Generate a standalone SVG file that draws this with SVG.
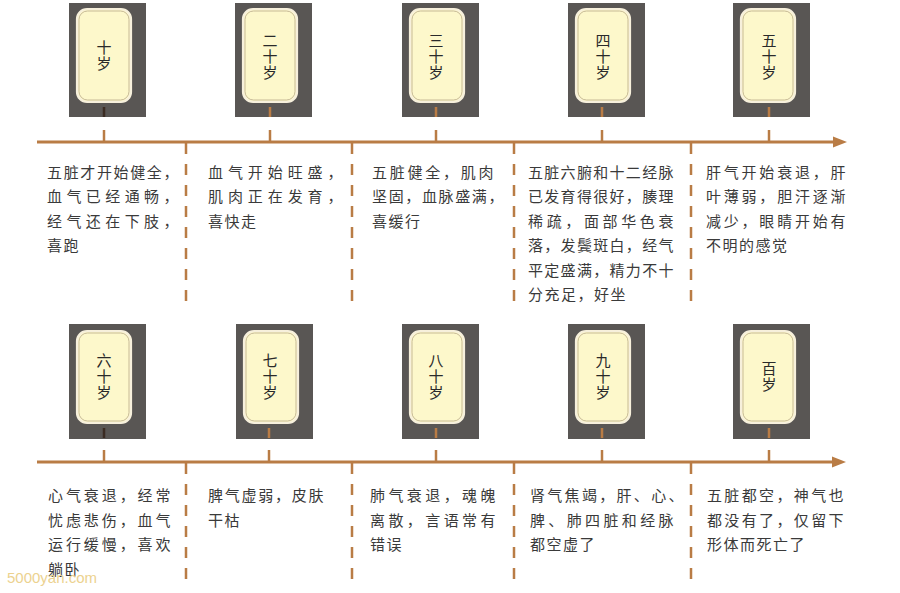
<svg xmlns="http://www.w3.org/2000/svg" width="900" height="593" viewBox="0 0 900 593">
<defs>
<style>
.box{fill:#595654}
.card{fill:#fdf8cb;stroke:#f7f0dc;stroke-width:2.2}
.cardin{fill:none;stroke:#b9a98a;stroke-width:0.8}
.lbl{font-family:"Noto Sans CJK SC","Noto Sans CJK JP",sans-serif;font-size:15px;fill:#2a2a2a;text-anchor:middle;writing-mode:vertical-rl;letter-spacing:1px}
.t{font-family:"Noto Sans CJK SC","Noto Sans CJK JP",sans-serif;font-size:15px;fill:#3a3a3a;letter-spacing:1.5px}
.line{stroke:#b97c45;stroke-width:3;fill:none}
.tick{stroke:#b97c45;stroke-width:2.5}
.tickd{stroke:#3b2b22;stroke-width:2.5}
.dash{stroke:#b97c45;stroke-width:2.5;stroke-dasharray:11 10}
.wm{font-family:"Liberation Sans",Arial,sans-serif;font-size:15px;fill:#ecd28f}
</style>
</defs>
<rect width="900" height="593" fill="#ffffff"/>

<g id="connectors">
<line class="line" x1="37" y1="142" x2="836" y2="142"/>
<polygon points="833,136.5 847,142 833,147.5" fill="#b97c45"/>
<line class="line" x1="37" y1="462" x2="834" y2="462"/>
<polygon points="832,456.5 846,462 832,467.5" fill="#b97c45"/>
<line class="dash" x1="186" y1="143" x2="186" y2="310"/>
<line class="dash" x1="352" y1="143" x2="352" y2="310"/>
<line class="dash" x1="514" y1="143" x2="514" y2="310"/>
<line class="dash" x1="691" y1="143" x2="691" y2="310"/>
<line class="dash" x1="186" y1="463" x2="186" y2="585"/>
<line class="dash" x1="352" y1="463" x2="352" y2="585"/>
<line class="dash" x1="514" y1="463" x2="514" y2="585"/>
<line class="dash" x1="691" y1="463" x2="691" y2="585"/>
<line class="tick" x1="104" y1="130" x2="104" y2="142"/>
<line class="tick" x1="270" y1="130" x2="270" y2="142"/>
<line class="tick" x1="436" y1="130" x2="436" y2="142"/>
<line class="tick" x1="602" y1="130" x2="602" y2="142"/>
<line class="tick" x1="769" y1="130" x2="769" y2="142"/>
<line class="tick" x1="104" y1="450" x2="104" y2="462"/>
<line class="tick" x1="269" y1="450" x2="269" y2="462"/>
<line class="tick" x1="436" y1="450" x2="436" y2="462"/>
<line class="tick" x1="602" y1="450" x2="602" y2="462"/>
<line class="tick" x1="769" y1="450" x2="769" y2="462"/>
</g>

<g id="n10">
<rect class="box" x="69" y="3" width="77" height="114"/>
<rect class="card" x="77" y="9" width="54" height="93" rx="10"/>
<rect class="cardin" x="79" y="11" width="50" height="89" rx="8.5"/>
<line class="tickd" x1="104" y1="107" x2="104" y2="117"/>
<text class="lbl" x="104" y="55.5">十岁</text>
</g>
<g id="n20">
<rect class="box" x="235" y="3" width="77" height="114"/>
<rect class="card" x="243" y="9" width="54" height="93" rx="10"/>
<rect class="cardin" x="245" y="11" width="50" height="89" rx="8.5"/>
<line class="tick" x1="270" y1="107" x2="270" y2="117"/>
<text class="lbl" x="270" y="56.5">二十岁</text>
</g>
<g id="n30">
<rect class="box" x="402" y="3" width="77" height="114"/>
<rect class="card" x="410" y="9" width="54" height="93" rx="10"/>
<rect class="cardin" x="412" y="11" width="50" height="89" rx="8.5"/>
<line class="tick" x1="436" y1="107" x2="436" y2="117"/>
<text class="lbl" x="436" y="56.5">三十岁</text>
</g>
<g id="n40">
<rect class="box" x="568" y="3" width="77" height="114"/>
<rect class="card" x="576" y="9" width="54" height="93" rx="10"/>
<rect class="cardin" x="578" y="11" width="50" height="89" rx="8.5"/>
<line class="tick" x1="602" y1="107" x2="602" y2="117"/>
<text class="lbl" x="603" y="56.5">四十岁</text>
</g>
<g id="n50">
<rect class="box" x="733" y="3" width="77" height="114"/>
<rect class="card" x="741" y="9" width="54" height="93" rx="10"/>
<rect class="cardin" x="743" y="11" width="50" height="89" rx="8.5"/>
<line class="tick" x1="769" y1="107" x2="769" y2="117"/>
<text class="lbl" x="769" y="56.5">五十岁</text>
</g>

<g id="n60">
<rect class="box" x="69" y="324" width="77" height="115"/>
<rect class="card" x="77" y="331" width="54" height="92" rx="10"/>
<rect class="cardin" x="79" y="333" width="50" height="88" rx="8.5"/>
<line class="tickd" x1="104" y1="428" x2="104" y2="438"/>
<text class="lbl" x="104" y="377">六十岁</text>
</g>
<g id="n70">
<rect class="box" x="236" y="324" width="77" height="115"/>
<rect class="card" x="244" y="331" width="54" height="92" rx="10"/>
<rect class="cardin" x="246" y="333" width="50" height="88" rx="8.5"/>
<line class="tick" x1="269" y1="428" x2="269" y2="438"/>
<text class="lbl" x="270" y="377">七十岁</text>
</g>
<g id="n80">
<rect class="box" x="402" y="324" width="77" height="115"/>
<rect class="card" x="410" y="331" width="54" height="92" rx="10"/>
<rect class="cardin" x="412" y="333" width="50" height="88" rx="8.5"/>
<line class="tick" x1="436" y1="428" x2="436" y2="438"/>
<text class="lbl" x="436" y="377">八十岁</text>
</g>
<g id="n90">
<rect class="box" x="568" y="324" width="77" height="115"/>
<rect class="card" x="576" y="331" width="54" height="92" rx="10"/>
<rect class="cardin" x="578" y="333" width="50" height="88" rx="8.5"/>
<line class="tick" x1="602" y1="428" x2="602" y2="438"/>
<text class="lbl" x="603" y="377">九十岁</text>
</g>
<g id="n100">
<rect class="box" x="733" y="324" width="77" height="115"/>
<rect class="card" x="741" y="331" width="54" height="92" rx="10"/>
<rect class="cardin" x="743" y="333" width="50" height="88" rx="8.5"/>
<line class="tick" x1="769" y1="428" x2="769" y2="438"/>
<text class="lbl" x="769" y="377">百岁</text>
</g>

<g id="d10">
<text class="t" x="47" y="177.5" style="letter-spacing:1.64px">五脏才开始健全，</text>
<text class="t" x="47" y="202" style="letter-spacing:4.42px">血气已经通畅，</text>
<text class="t" x="47" y="226.5" style="letter-spacing:4.42px">经气还在下肢，</text>
<text class="t" x="47" y="251">喜跑</text>
</g>
<g id="d20">
<text class="t" x="208" y="177.5" style="letter-spacing:4.92px">血气开始旺盛，</text>
<text class="t" x="208" y="202" style="letter-spacing:4.92px">肌肉正在发育，</text>
<text class="t" x="208" y="226.5">喜快走</text>
</g>
<g id="d30">
<text class="t" x="372" y="177.5" style="letter-spacing:2.75px">五脏健全，肌肉</text>
<text class="t" x="372" y="202" style="letter-spacing:1.64px">坚固，血脉盛满，</text>
<text class="t" x="372" y="226.5">喜缓行</text>
</g>
<g id="d40">
<text class="t" x="528" y="177.5" style="letter-spacing:1.31px">五脏六腑和十二经脉</text>
<text class="t" x="528" y="202" style="letter-spacing:1.31px">已发育得很好，腠理</text>
<text class="t" x="528" y="226.5" style="letter-spacing:3.64px">稀疏，面部华色衰</text>
<text class="t" x="528" y="251" style="letter-spacing:1.31px">落，发鬓斑白，经气</text>
<text class="t" x="528" y="275.5" style="letter-spacing:1.31px">平定盛满，精力不十</text>
<text class="t" x="528" y="300">分充足，好坐</text>
</g>
<g id="d50">
<text class="t" x="706" y="177.5" style="letter-spacing:2.79px">肝气开始衰退，肝</text>
<text class="t" x="706" y="202" style="letter-spacing:2.79px">叶薄弱，胆汗逐渐</text>
<text class="t" x="706" y="226.5" style="letter-spacing:2.79px">减少，眼睛开始有</text>
<text class="t" x="706" y="251">不明的感觉</text>
</g>

<g id="d60">
<text class="t" x="48" y="501" style="letter-spacing:2.92px">心气衰退，经常</text>
<text class="t" x="48" y="525.5" style="letter-spacing:2.92px">忧虑悲伤，血气</text>
<text class="t" x="48" y="550" style="letter-spacing:2.92px">运行缓慢，喜欢</text>
<text class="t" x="48" y="574.5">躺卧</text>
</g>
<g id="d70">
<text class="t" x="208" y="501" style="letter-spacing:1.75px">脾气虚弱，皮肤</text>
<text class="t" x="208" y="525.5">干枯</text>
</g>
<g id="d80">
<text class="t" x="370" y="501" style="letter-spacing:3.42px">肺气衰退，魂魄</text>
<text class="t" x="370" y="525.5" style="letter-spacing:3.42px">离散，言语常有</text>
<text class="t" x="370" y="550">错误</text>
</g>
<g id="d90">
<text class="t" x="530" y="501" style="letter-spacing:2.31px">肾气焦竭，肝、心、</text>
<text class="t" x="530" y="525.5" style="letter-spacing:3.36px">脾、肺四脏和经脉</text>
<text class="t" x="530" y="550">都空虚了</text>
</g>
<g id="d100">
<text class="t" x="707" y="501" style="letter-spacing:2.36px">五脏都空，神气也</text>
<text class="t" x="707" y="525.5" style="letter-spacing:2.36px">都没有了，仅留下</text>
<text class="t" x="707" y="550">形体而死亡了</text>
</g>

<text class="wm" x="7" y="583">5000yan.com</text>
</svg>
